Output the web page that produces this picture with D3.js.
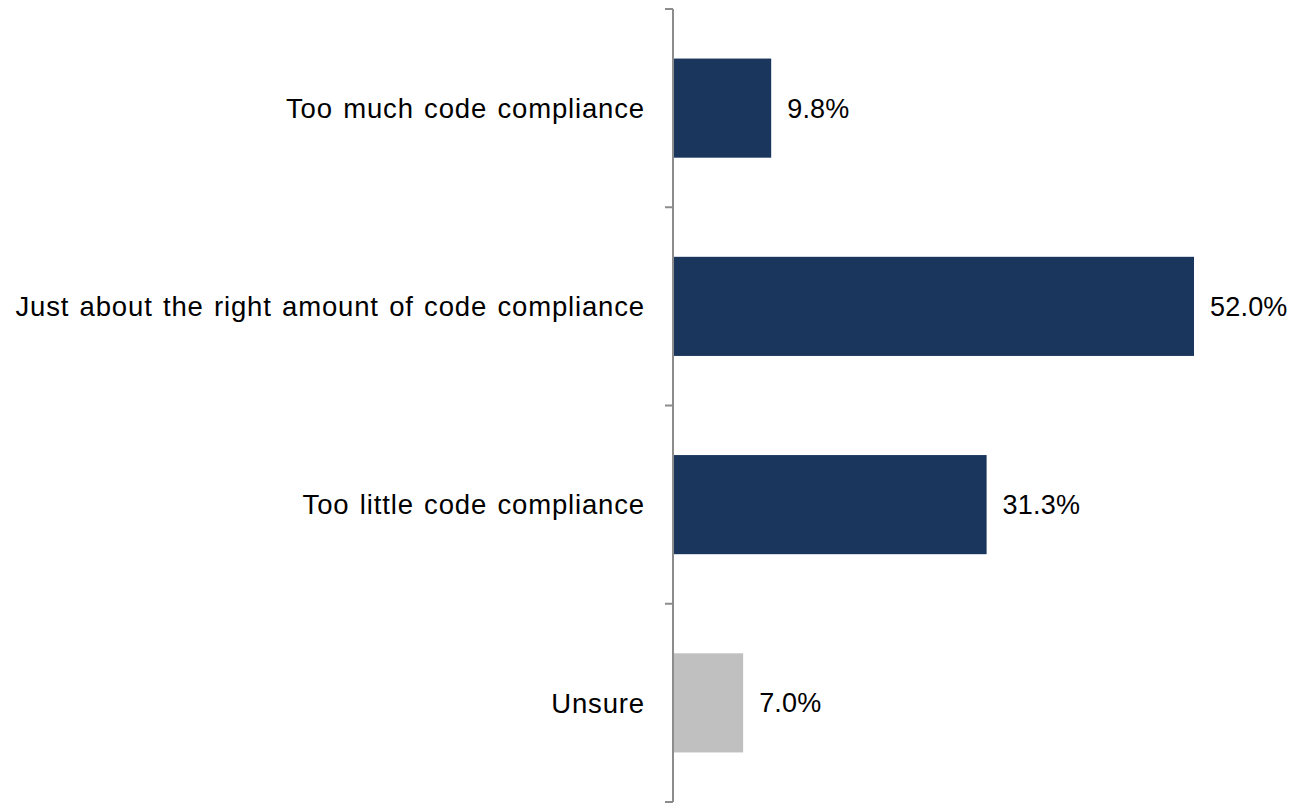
<!DOCTYPE html>
<html><head><meta charset="utf-8">
<script src="https://cdn.jsdelivr.net/npm/d3@7"></script>
<style>body{margin:0;background:#fff}svg{display:block}text{font-family:"Liberation Sans",Arial,Helvetica,sans-serif;fill:#000}</style>
</head><body>
<svg id="c" width="1291" height="803"></svg>
<script>
const categories = ["Too much code compliance","Just about the right amount of code compliance","Too little code compliance","Unsure"];
const values = [9.8, 52.0, 31.3, 7.0];
const valueLabels = ["9.8%","52.0%","31.3%","7.0%"];
const barColors = ["#1a365d","#1a365d","#1a365d","#c0c0c0"];

const svg = d3.select("#c");
const x0 = 673;
const x = d3.scaleLinear().domain([0, 52]).range([x0, 1194]);
const y = d3.scaleBand().domain(categories).range([9, 802]).paddingInner(0.5).paddingOuter(0.25);

svg.selectAll("rect.bar").data(values).join("rect")
  .attr("class","bar")
  .attr("x", x(0))
  .attr("y", (d,i)=>y(categories[i]))
  .attr("width", d=>x(d)-x(0))
  .attr("height", y.bandwidth())
  .attr("fill", (d,i)=>barColors[i]);

const step = y.step();
const tickYs = d3.range(categories.length+1).map(i=>9 + i*step);
svg.append("line").attr("x1",x0).attr("x2",x0).attr("y1",9).attr("y2",802)
  .attr("stroke","#8c8c8c").attr("stroke-width",2);
svg.selectAll("line.tick").data(tickYs).join("line").attr("class","tick")
  .attr("x1",x0-8).attr("x2",x0).attr("y1",d=>d).attr("y2",d=>d)
  .attr("stroke","#8c8c8c").attr("stroke-width",2);

svg.selectAll("text.cat").data(categories).join("text").attr("class","cat")
  .attr("x",645).attr("y",d=>y(d)+y.bandwidth()/2)
  .attr("dy","0.35em").attr("text-anchor","end")
  .style("font-size","27.5px").style("letter-spacing","0.85px").style("word-spacing","1.8px")
  .text(d=>d);

svg.selectAll("text.val").data(values).join("text").attr("class","val")
  .attr("x",d=>x(d)+16).attr("y",(d,i)=>y(categories[i])+y.bandwidth()/2)
  .attr("dy","0.35em")
  .style("font-size","27px").style("letter-spacing","0.2px")
  .text((d,i)=>valueLabels[i]);
</script>
</body></html>
